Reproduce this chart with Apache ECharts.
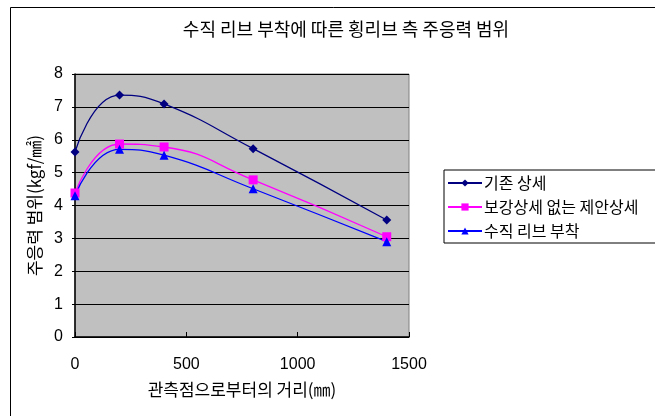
<!DOCTYPE html>
<html><head><meta charset="utf-8">
<script src="https://cdn.jsdelivr.net/npm/echarts@6/dist/echarts.min.js"></script>
<style>html,body{margin:0;padding:0;background:#fff}#c{width:655px;height:416px}</style>
</head><body><div id="c"></div>
<script>
const distances = [0, 200, 400, 800, 1400];
const seriesNames = ['기존 상세', '보강상세 없는 제안상세', '수직 리브 부착'];
const existing = [5.63, 7.36, 7.09, 5.73, 3.56];
const proposedNoRib = [4.38, 5.87, 5.78, 4.78, 3.05];
const verticalRib = [4.30, 5.71, 5.53, 4.51, 2.90];
const colors = ['#000080', '#ff00ff', '#0000ff'];
const symbols = ['diamond', 'rect', 'triangle'];
const values = [existing, proposedNoRib, verticalRib];
const FONT = '"Noto Sans CJK KR", sans-serif';
const NUMFONT = '"Liberation Sans", Arial, sans-serif';

const chart = echarts.init(document.getElementById('c'), null, {renderer: 'canvas'});
chart.setOption({
  animation: false,
  backgroundColor: '#fff',
  title: {
    text: '수직 리브 부착에 따른 횡리브 측 주응력 범위',
    left: 341, top: 15, textAlign: 'center',
    textStyle: {fontFamily: FONT, fontSize: 18, fontWeight: 'normal', color: '#000'}
  },
  graphic: [{
    type: 'rect', left: 8, top: 5, shape: {width: 700, height: 500},
    style: {fill: 'none', stroke: '#000', lineWidth: 1}, z: -1
  }],
  legend: {
    orient: 'vertical', left: 444, top: 170,
    backgroundColor: '#fff', borderColor: '#000', borderWidth: 1,
    padding: [5, 40, 4, 3], itemGap: 8, itemWidth: 34, itemHeight: 9,
    textStyle: {fontFamily: FONT, fontSize: 16, color: '#000', padding: [0, 0, 0, -3]},
    data: seriesNames
  },
  grid: {left: 75, right: 246, top: 74, bottom: 79, show: true, backgroundColor: '#c0c0c0', borderColor: '#808080', borderWidth: 1},
  xAxis: {
    type: 'value', min: 0, max: 1500, interval: 500,
    name: '관측점으로부터의 거리(㎜)', nameLocation: 'middle', nameGap: 44,
    nameTextStyle: {fontFamily: FONT, fontSize: 17, color: '#000'},
    axisLine: {show: true, lineStyle: {color: '#000', width: 1.5}},
    axisTick: {show: true, inside: true, length: 5, lineStyle: {color: '#000'}},
    axisLabel: {fontFamily: NUMFONT, fontSize: 16, color: '#000', margin: 20, formatter: v => String(v)},
    splitLine: {show: false}
  },
  yAxis: {
    type: 'value', min: 0, max: 8, interval: 1,
    name: '주응력 범위(kgf/㎟)', nameLocation: 'middle', nameGap: 32,
    nameTextStyle: {fontFamily: FONT, fontSize: 17, color: '#000'},
    axisLine: {show: true, lineStyle: {color: '#000', width: 1.5}},
    axisTick: {show: true, length: 3, lineStyle: {color: '#000'}},
    axisLabel: {fontFamily: NUMFONT, fontSize: 16, color: '#000', margin: 12, formatter: v => String(v)},
    splitLine: {show: true, lineStyle: {color: '#000', width: 1}}
  },
  series: values.map((v, i) => ({
    name: seriesNames[i], type: 'line', smooth: 0.5,
    data: distances.map((d, j) => [d, v[j]]),
    symbol: symbols[i], symbolSize: 9,
    lineStyle: {color: colors[i], width: 1.3},
    itemStyle: {color: colors[i]}
  }))
});
</script></body></html>
